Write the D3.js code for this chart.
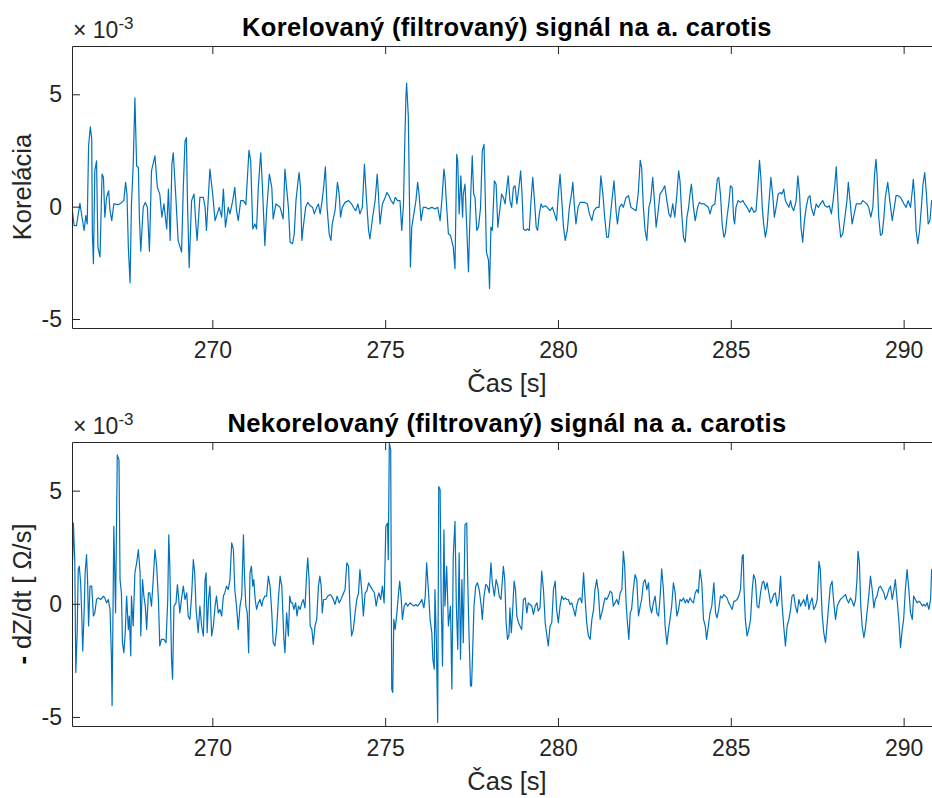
<!DOCTYPE html>
<html>
<head>
<meta charset="utf-8">
<script src="https://cdn.jsdelivr.net/npm/d3@7"></script>
<style>
  html, body { margin: 0; padding: 0; background: #fff; }
  svg { display: block; font-family: "Liberation Sans", Arial, Helvetica, sans-serif; }
</style>
</head>
<body>
<svg id="chart" width="932" height="798"></svg>
<script>
// Filtered impedance signals from a. carotis, values in units of 1e-3.
// Each entry: [time in s, value x 1e-3]
const correlatedSignal = [
  [265.94,0.0],[266.00,-0.84],[266.07,-0.84],[266.17,0.15],[266.23,-0.47],[266.29,-1.06],[266.34,-0.4],[266.38,-0.77],[266.42,2.7],[266.47,3.55],[266.51,3.04],[266.53,-1.21],[266.56,-2.54],[266.60,1.59],[266.65,2.04],[266.69,-1.8],[266.75,-2.24],[266.81,1.45],[266.85,1.3],[266.89,-0.47],[266.94,0.41],[267.00,0.71],[267.04,-0.18],[267.09,-0.62],[267.15,0.12],[267.28,0.09],[267.38,0.19],[267.44,0.27],[267.49,1.08],[267.53,0.56],[267.57,-1.8],[267.62,-3.39],[267.66,0.12],[267.71,1.81],[267.76,4.84],[267.81,1.81],[267.86,1.74],[267.89,-0.47],[267.93,-1.98],[268.00,-0.03],[268.06,0.19],[268.12,-0.03],[268.18,-1.98],[268.24,1.59],[268.34,2.26],[268.41,0.86],[268.48,0.56],[268.54,-0.47],[268.60,0.12],[268.68,-0.99],[268.73,0.78],[268.78,-1.5],[268.83,1.89],[268.87,2.4],[268.95,0.27],[269.01,-1.5],[269.11,-2.02],[269.16,0.86],[269.21,2.92],[269.25,3.07],[269.28,0.27],[269.33,-2.71],[269.40,0.27],[269.47,0.56],[269.53,-0.91],[269.56,-1.5],[269.64,0.41],[269.74,0.41],[269.79,-0.03],[269.83,-1.06],[269.93,1.67],[270.01,0.56],[270.08,-0.62],[270.20,-0.03],[270.27,-0.47],[270.32,0.78],[270.38,-0.91],[270.46,-0.03],[270.51,-0.32],[270.59,0.27],[270.65,0.86],[270.70,-0.18],[270.75,-0.62],[270.82,0.27],[270.90,0.27],[270.97,0.09],[271.06,2.51],[271.11,2.04],[271.17,-0.99],[271.23,-0.77],[271.28,-0.99],[271.33,0.86],[271.40,2.4],[271.45,0.86],[271.52,-1.73],[271.57,-0.18],[271.65,1.45],[271.72,0.86],[271.76,-0.55],[271.84,0.12],[271.96,-0.03],[272.05,-0.55],
  [272.10,1.67],[272.20,-0.03],[272.25,-1.58],[272.32,-1.65],[272.37,-1.21],[272.42,0.27],[272.47,1.0],[272.51,1.52],[272.55,0.86],[272.59,-1.5],[272.63,-0.91],[272.70,-0.03],[272.76,0.19],[272.83,0.04],[272.90,-0.03],[272.95,-0.32],[273.02,-0.03],[273.07,0.12],[273.12,-0.32],[273.17,0.19],[273.22,0.86],[273.27,1.77],[273.32,-0.03],[273.38,-1.21],[273.43,-1.5],[273.47,-0.77],[273.55,-0.18],[273.62,1.08],[273.67,0.56],[273.71,-0.47],[273.76,-0.03],[273.84,0.19],[273.94,0.27],[274.03,0.12],[274.08,-0.03],[274.15,-0.18],[274.21,0.12],[274.27,-0.32],[274.34,-0.03],[274.40,1.89],[274.45,0.56],[274.52,-1.06],[274.56,-1.43],[274.63,-0.55],[274.71,0.27],[274.77,1.45],[274.80,0.71],[274.85,-0.77],[274.92,0.12],[275.00,0.41],[275.05,0.63],[275.11,0.49],[275.17,0.27],[275.24,0.12],[275.29,0.41],[275.36,0.27],[275.43,0.27],[275.48,-1.06],[275.53,0.12],[275.56,2.33],[275.60,4.84],[275.62,5.5],[275.67,4.03],[275.70,0.56],[275.73,-2.68],[275.77,-0.91],[275.83,-0.32],[275.89,0.27],[275.94,1.08],[275.98,0.56],[276.04,-0.62],[276.10,-0.03],[276.17,-0.03],[276.25,-0.1],[276.35,-0.03],[276.44,-0.1],[276.52,-0.03],[276.59,-0.62],[276.64,0.27],[276.70,1.67],[276.73,1.3],[276.78,-0.03],[276.83,-1.21],[276.89,-1.28],[276.97,-1.8],[277.02,-2.76],[277.07,2.33],[277.10,2.04],[277.14,-0.32],[277.19,1.37],[277.24,-0.47],[277.26,0.56],[277.31,1.0],[277.36,-0.91],[277.41,-2.9],[277.44,-1.21],[277.48,0.71],[277.52,2.26],[277.56,0.56],[277.60,0.41],[277.65,-1.06],[277.70,-0.91],[277.76,-0.03],[277.81,2.48],[277.86,2.77],[277.89,0.86],[277.93,-2.02],[277.99,-2.39],[278.02,-3.64],[278.06,-0.91],[278.10,-1.06],[278.16,1.15],[278.21,1.0],[278.26,-0.91],
  [278.37,0.56],[278.42,0.41],[278.47,0.12],[278.52,0.86],[278.56,1.37],[278.61,0.27],[278.66,-0.03],[278.71,0.86],[278.76,0.93],[278.81,0.12],[278.87,0.86],[278.92,1.59],[278.96,0.56],[279.00,-0.99],[279.06,-1.06],[279.12,-0.99],[279.17,-1.06],[279.22,0.27],[279.27,1.3],[279.32,0.27],[279.37,-0.91],[279.41,-1.06],[279.46,-0.32],[279.51,0.12],[279.56,-0.03],[279.63,0.04],[279.69,-0.03],[279.77,-0.18],[279.84,-0.03],[279.90,-0.32],[279.96,-0.62],[280.01,0.56],[280.06,1.45],[280.11,0.27],[280.16,-0.91],[280.21,-1.5],[280.27,-1.06],[280.33,-0.03],[280.39,0.56],[280.43,1.08],[280.47,0.12],[280.52,-0.77],[280.58,-0.03],[280.64,0.19],[280.72,0.19],[280.78,0.19],[280.85,0.12],[280.91,-0.32],[280.98,-0.62],[281.04,-0.18],[281.12,-0.03],[281.19,-0.03],[281.24,1.37],[281.30,0.56],[281.35,-0.47],[281.41,-1.36],[281.46,-1.36],[281.53,-0.18],[281.58,0.56],[281.62,1.15],[281.68,-0.18],[281.72,-0.77],[281.78,-0.03],[281.84,0.12],[281.89,-0.03],[281.97,0.41],[282.04,0.49],[282.11,-0.03],[282.18,-0.1],[282.26,-0.18],[282.32,0.56],[282.38,2.06],[282.42,1.74],[282.47,-0.03],[282.52,-1.06],[282.57,-1.5],[282.63,-0.03],[282.68,0.27],[282.74,1.3],[282.79,0.27],[282.84,-0.91],[282.90,-0.18],[282.95,0.56],[283.02,0.71],[283.09,0.93],[283.15,0.27],[283.21,-0.32],[283.26,-0.47],[283.32,0.12],[283.38,-0.47],[283.44,0.56],[283.49,1.59],[283.53,1.15],[283.58,-0.32],[283.63,-1.36],[283.68,-1.58],[283.73,-0.47],[283.78,-0.03],[283.82,0.56],[283.86,1.0],[283.92,-0.03],[283.97,-0.62],[284.04,-0.03],[284.09,0.19],[284.16,0.12],[284.23,0.12],[284.29,0.04],[284.35,-0.03],[284.40,-0.32],
  [284.46,0.04],[284.54,0.12],[284.57,0.63],[284.61,1.22],[284.65,1.3],[284.70,0.56],[284.75,-0.77],[284.80,-1.36],[284.84,-1.21],[284.89,-0.47],[284.94,0.12],[284.99,0.93],[285.04,0.86],[285.08,-0.47],[285.11,-0.77],[285.15,-0.03],[285.21,0.27],[285.28,0.19],[285.35,0.27],[285.40,0.12],[285.47,-0.03],[285.54,-0.25],[285.60,-0.03],[285.67,-0.25],[285.73,-0.18],[285.78,0.86],[285.83,2.06],[285.87,1.3],[285.91,-0.03],[285.95,-0.77],[286.00,-1.36],[286.05,-0.91],[286.10,0.12],[286.16,1.3],[286.21,0.56],[286.26,-0.47],[286.31,-0.03],[286.37,0.56],[286.44,0.63],[286.48,0.56],[286.53,0.78],[286.58,0.27],[286.63,0.12],[286.68,-0.03],[286.73,0.27],[286.77,-0.03],[286.82,-0.18],[286.89,0.27],[286.94,1.37],[286.99,0.56],[287.03,-0.91],[287.08,-1.58],[287.13,-0.62],[287.18,-0.03],[287.24,0.41],[287.29,0.49],[287.33,-0.03],[287.40,-0.4],[287.47,0.12],[287.53,-0.03],[287.59,0.12],[287.66,0.27],[287.72,0.04],[287.79,-0.03],[287.85,0.04],[287.91,-0.32],[287.96,0.27],[288.01,1.0],[288.05,1.77],[288.09,0.56],[288.12,-0.47],[288.18,-1.36],[288.24,-1.21],[288.30,-0.47],[288.36,0.27],[288.40,1.08],[288.45,0.27],[288.51,-0.77],[288.57,-0.32],[288.63,0.12],[288.70,0.12],[288.76,0.12],[288.82,0.27],[288.88,0.19],[288.94,0.12],[288.99,-0.03],[289.05,-0.47],[289.11,-0.03],[289.16,1.45],[289.20,2.11],[289.23,1.45],[289.28,-0.47],[289.33,-1.28],[289.38,-1.21],[289.43,-0.47],[289.47,0.41],[289.54,1.08],[289.60,0.27],[289.67,-0.62],[289.73,-0.03],[289.78,0.49],[289.84,0.49],[289.91,0.41],[289.96,0.27],[290.01,0.12],[290.07,-0.03],[290.13,0.27],[290.20,-0.03],[290.25,0.71],[290.28,1.22],[290.32,0.41],[290.36,-1.06],[290.41,-1.65],[290.46,-1.06],[290.52,0.12],[290.56,1.0],[290.61,1.52],[290.66,0.56],[290.71,-0.77],[290.76,-0.62],[290.81,0.27],[290.90,0.3]
];

const uncorrelatedSignal = [
  [265.96,1.95],[265.98,3.57],[266.02,1.95],[266.05,-3.04],[266.09,-1.28],[266.12,1.51],[266.15,1.66],[266.19,0.93],[266.22,-0.4],[266.25,-2.09],[266.29,-0.4],[266.32,1.37],[266.36,2.17],[266.39,1.07],[266.42,-0.98],[266.46,0.78],[266.51,0.78],[266.56,-0.54],[266.60,-0.4],[266.65,0.19],[266.70,0.26],[266.77,0.19],[266.85,0.34],[266.89,0.26],[266.94,0.04],[266.99,0.19],[267.04,-0.25],[267.08,-2.3],[267.10,-4.5],[267.15,3.42],[267.20,-0.4],[267.25,6.58],[267.30,6.36],[267.33,1.07],[267.37,0.48],[267.40,-1.72],[267.44,-2.16],[267.48,-1.28],[267.52,0.34],[267.57,-1.13],[267.60,-0.54],[267.64,-2.3],[267.66,0.34],[267.71,-0.98],[267.76,1.37],[267.81,1.81],[267.86,2.39],[267.91,1.37],[267.93,-1.42],[267.98,1.07],[268.02,0.34],[268.06,-0.1],[268.10,-1.13],[268.15,0.48],[268.19,0.48],[268.24,-0.1],[268.29,1.07],[268.34,2.39],[268.39,1.66],[268.44,0.19],[268.48,-1.86],[268.53,-1.57],[268.60,-1.57],[268.66,-1.72],[268.71,0.19],[268.74,3.05],[268.77,1.66],[268.82,-2.45],[268.85,-3.33],[268.89,-0.1],[268.95,0.04],[268.99,0.85],[269.02,0.34],[269.06,-0.4],[269.12,0.34],[269.16,0.78],[269.21,0.19],[269.26,0.48],[269.30,-0.54],[269.35,-0.69],[269.40,0.34],[269.45,1.95],[269.49,1.37],[269.53,-0.25],[269.59,-1.28],[269.64,-0.1],[269.69,-0.98],[269.74,-1.42],[269.79,1.07],[269.82,1.37],[269.85,-1.28],[269.89,0.19],[269.93,0.78],[269.98,-1.42],[270.03,-0.98],[270.08,-0.1],[270.12,0.34],[270.17,-0.4],[270.22,-0.25],[270.27,-0.54],[270.32,0.34],[270.36,0.48],[270.41,0.78],[270.46,0.63],[270.51,1.07],[270.56,2.69],[270.61,2.39],[270.65,0.63],[270.70,-0.1],[270.75,-1.13],[270.80,-0.1],[270.85,0.34],[270.90,3.05],[270.93,1.22],[270.97,-0.1],[271.01,-0.4],[271.05,-2.16],[271.09,1.37],[271.13,1.66],[271.17,0.78],[271.20,1.07],[271.24,0.19],[271.28,-0.25],[271.33,0.04],[271.38,0.19],[271.43,-0.1],[271.47,0.19],[271.52,0.34],[271.57,0.34],[271.62,1.22],[271.67,0.78],[271.72,-0.4],[271.76,-1.72],[271.81,-1.86],[271.86,-1.13],[271.91,0.19],[271.96,1.22],[272.01,0.78],[272.07,-1.57],
  [272.10,-2.16],[272.15,-0.4],[272.20,-1.42],[272.24,0.34],[272.28,0.04],[272.32,0.04],[272.36,-0.25],[272.41,0.04],[272.45,-0.54],[272.49,-0.1],[272.54,-0.25],[272.59,0.04],[272.63,0.19],[272.68,-0.18],[272.73,1.37],[272.76,2.03],[272.80,1.07],[272.83,-0.98],[272.88,-1.13],[272.92,-1.79],[272.97,-0.98],[273.02,-0.69],[273.07,0.78],[273.11,1.22],[273.15,0.78],[273.18,-0.4],[273.22,0.19],[273.28,0.19],[273.34,0.34],[273.41,0.41],[273.45,0.34],[273.50,0.19],[273.55,-0.03],[273.61,0.34],[273.67,0.04],[273.72,0.19],[273.78,0.41],[273.84,0.63],[273.89,1.81],[273.94,1.66],[273.98,-0.1],[274.03,-1.42],[274.08,-1.13],[274.13,-0.4],[274.18,0.19],[274.23,0.48],[274.27,1.51],[274.32,0.63],[274.37,-0.54],[274.42,0.48],[274.47,0.56],[274.52,0.93],[274.57,0.78],[274.63,0.63],[274.69,0.48],[274.74,-0.1],[274.79,0.34],[274.82,0.48],[274.87,0.19],[274.92,0.78],[274.97,0.04],[275.02,3.42],[275.07,3.57],[275.09,1.95],[275.12,7.1],[275.16,6.8],[275.19,-3.77],[275.22,-3.92],[275.25,-0.69],[275.29,-1.13],[275.34,-0.4],[275.38,0.34],[275.42,1.0],[275.46,0.34],[275.50,-0.69],[275.55,-0.1],[275.60,0.04],[275.65,-0.1],[275.72,0.04],[275.77,-0.03],[275.83,-0.1],[275.89,-0.03],[275.94,-0.1],[276.01,0.04],[276.06,0.19],[276.12,-0.18],[276.16,0.34],[276.20,1.81],[276.25,0.63],[276.30,-0.69],[276.35,-1.28],[276.38,-2.45],[276.42,-2.89],[276.44,0.63],[276.48,-1.57],[276.52,-5.24],[276.55,5.18],[276.59,5.04],[276.62,0.19],[276.66,-2.75],[276.70,3.27],[276.73,-0.1],[276.78,1.66],[276.83,-0.98],[276.89,-0.1],[276.93,-3.77],[276.97,2.1],[277.02,3.64],[277.06,-0.1],[277.10,-2.01],[277.14,2.25],[277.18,-2.45],[277.22,1.07],[277.26,-1.72],[277.31,3.5],[277.36,3.57],[277.39,0.93],[277.43,-1.57],[277.47,-3.63],[277.50,-3.63],[277.53,-2.16],[277.57,-0.1],[277.62,0.78],[277.67,0.93],[277.72,0.63],[277.78,-0.1],[277.81,-0.69],[277.86,0.34],[277.91,0.85],[277.96,0.78],[278.01,0.48],[278.06,1.81],[278.10,0.93],[278.16,0.34],[278.21,1.07],[278.26,0.78],[278.30,0.34],[278.35,0.19],
  [278.42,1.66],[278.46,1.07],[278.50,-0.84],[278.54,-1.57],[278.58,-1.42],[278.61,-0.18],[278.65,-1.28],[278.69,-0.25],[278.73,1.0],[278.77,0.63],[278.81,-0.54],[278.86,-0.84],[278.90,-0.98],[278.95,-1.13],[279.00,0.19],[279.05,0.26],[279.10,-0.4],[279.14,0.04],[279.19,-0.03],[279.24,-0.1],[279.29,-0.47],[279.34,-0.1],[279.39,0.04],[279.43,-0.32],[279.48,-0.18],[279.53,1.44],[279.58,0.63],[279.63,-0.84],[279.68,-1.42],[279.72,-1.86],[279.77,-0.98],[279.82,-0.84],[279.87,0.63],[279.92,1.0],[279.96,-0.25],[280.01,-0.84],[280.06,-0.1],[280.11,0.34],[280.16,0.19],[280.21,0.26],[280.25,0.19],[280.30,0.19],[280.35,-0.03],[280.40,0.04],[280.45,-0.25],[280.50,-0.54],[280.54,-0.1],[280.59,0.19],[280.64,0.26],[280.69,0.04],[280.74,1.37],[280.78,0.34],[280.83,-0.84],[280.88,-1.42],[280.93,-1.57],[280.98,-0.69],[281.03,-0.25],[281.07,0.63],[281.12,1.07],[281.17,0.48],[281.22,-0.69],[281.27,-0.4],[281.31,-0.1],[281.36,0.26],[281.41,0.19],[281.46,0.34],[281.51,0.56],[281.56,0.48],[281.60,-0.1],[281.65,0.04],[281.70,0.19],[281.75,-0.03],[281.80,0.48],[281.85,0.63],[281.89,2.32],[281.93,1.66],[281.97,0.04],[282.01,-0.84],[282.05,-1.57],[282.09,-0.4],[282.13,-0.25],[282.18,0.63],[282.23,1.29],[282.28,1.07],[282.33,-0.54],[282.38,-0.1],[282.42,0.19],[282.47,0.93],[282.52,1.07],[282.57,0.63],[282.62,0.93],[282.66,-0.1],[282.71,-0.4],[282.76,0.04],[282.81,0.34],[282.86,-0.4],[282.91,-0.54],[282.95,0.19],[283.00,1.54],[283.05,0.63],[283.10,-0.98],[283.15,-1.79],[283.20,-1.13],[283.24,-0.69],[283.29,-0.1],[283.34,0.93],[283.39,0.48],[283.44,-0.54],[283.49,-0.25],[283.53,0.19],[283.58,0.12],[283.63,0.26],[283.68,0.04],[283.73,0.19],[283.77,0.04],[283.82,0.26],[283.87,0.12],[283.92,0.04],[283.97,0.48],[284.02,0.63],[284.06,0.48],[284.11,1.51],[284.16,0.93],[284.21,-0.69],[284.26,-0.98],[284.30,-1.57],[284.35,-0.98],[284.40,-0.4],[284.45,-0.1],
  [284.51,0.93],[284.56,-0.4],[284.60,-0.62],[284.65,-0.25],[284.70,0.34],[284.75,0.26],[284.80,0.41],[284.84,0.34],[284.89,0.26],[284.94,0.04],[284.99,-0.1],[285.04,-0.25],[285.09,0.12],[285.13,0.12],[285.18,0.19],[285.23,0.34],[285.28,0.63],[285.33,2.1],[285.36,2.17],[285.38,0.78],[285.42,-0.69],[285.47,-1.42],[285.52,-1.13],[285.57,-0.69],[285.62,0.63],[285.66,1.29],[285.71,1.07],[285.76,-0.1],[285.81,-0.18],[285.86,0.48],[285.91,0.93],[285.95,1.0],[286.00,0.63],[286.05,0.93],[286.10,0.48],[286.15,0.04],[286.20,0.19],[286.24,0.41],[286.29,0.48],[286.34,-0.1],[286.39,0.19],[286.44,1.22],[286.48,0.04],[286.53,-0.98],[286.58,-1.86],[286.63,-0.98],[286.68,-0.69],[286.73,-0.25],[286.77,0.34],[286.82,0.41],[286.87,-0.1],[286.92,-0.4],[286.97,0.19],[287.02,-0.1],[287.06,0.04],[287.11,0.19],[287.16,-0.1],[287.21,0.41],[287.26,-0.25],[287.30,0.04],[287.35,0.26],[287.40,-0.25],[287.45,-0.1],[287.50,0.19],[287.55,1.88],[287.59,1.51],[287.64,-0.4],[287.69,-1.28],[287.74,-1.72],[287.79,-0.84],[287.83,-0.1],[287.88,0.78],[287.93,1.0],[287.98,0.04],[288.03,-0.69],[288.08,-0.1],[288.12,0.04],[288.17,0.19],[288.22,0.26],[288.27,0.34],[288.32,0.41],[288.36,0.19],[288.41,0.04],[288.46,0.26],[288.51,0.12],[288.56,-0.1],[288.61,0.19],[288.65,1.07],[288.68,2.32],[288.72,1.81],[288.76,-0.1],[288.80,-0.98],[288.85,-1.5],[288.89,-1.13],[288.94,-0.4],[288.99,0.34],[289.04,1.22],[289.09,0.63],[289.14,-0.18],[289.18,0.19],[289.23,0.34],[289.28,0.7],[289.33,0.78],[289.38,0.63],[289.43,0.48],[289.47,0.19],[289.52,0.34],[289.57,0.63],[289.62,0.78],[289.67,0.19],[289.72,0.63],[289.76,1.07],[289.81,0.19],[289.86,-0.69],[289.91,-1.94],[289.96,-1.13],[290.00,-0.69],[290.05,0.63],[290.10,1.51],[290.15,0.63],[290.20,-0.4],[290.25,-0.69],[290.29,0.34],[290.34,0.19],[290.39,0.04],[290.44,0.12],[290.49,0.04],[290.54,-0.1],[290.58,-0.03],[290.63,-0.1],[290.68,0.04],[290.73,-0.25],[290.78,0.19],[290.81,1.51],[290.90,1.2]
];

const timeTicks = [270, 275, 280, 285, 290];
const valueTicks = [-5, 0, 5];
const timeRange = [265.94, 291.11];
const valueRange = [-5.4, 7.15];

const panels = [
  { id: "corr", data: correlatedSignal,
    title: "Korelovaný (filtrovaný) signál na a. carotis",
    yLabel: [{ t: "Korelácia" }],
    top: 46, bottom: 328 },
  { id: "uncorr", data: uncorrelatedSignal,
    title: "Nekorelovaný (filtrovaný) signál na a. carotis",
    yLabel: [{ t: "-", dark: true }, { t: " dZ/dt [ Ω/s]" }],
    top: 442, bottom: 726 }
];

const svg = d3.select("#chart");
const left = 72, right = 942;
const axisColor = "#262626";
const lineColor = "#0072BD";
const tickLen = 8;

const x = d3.scaleLinear().domain(timeRange).range([left, right]);

panels.forEach(p => {
  const y = d3.scaleLinear().domain(valueRange).range([p.bottom, p.top]);
  const g = svg.append("g");

  g.append("clipPath").attr("id", "clip-" + p.id)
    .append("rect")
    .attr("x", left).attr("y", p.top)
    .attr("width", right - left).attr("height", p.bottom - p.top);

  // signal trace
  g.append("path")
    .datum(p.data)
    .attr("clip-path", `url(#clip-${p.id})`)
    .attr("fill", "none")
    .attr("stroke", lineColor)
    .attr("stroke-width", 1.2)
    .attr("stroke-linejoin", "round")
    .attr("d", d3.line().x(d => x(d[0])).y(d => y(d[1])));

  // bottom axis with inward ticks
  const xAxis = g.append("g")
    .attr("transform", `translate(0,${p.bottom})`)
    .call(d3.axisBottom(x).tickValues(timeTicks).tickSizeInner(-tickLen).tickSizeOuter(0).tickPadding(14));
  xAxis.select(".domain").attr("stroke", axisColor);
  xAxis.selectAll(".tick line").attr("stroke", axisColor);
  xAxis.selectAll(".tick text")
    .attr("fill", axisColor)
    .attr("font-size", 23)
    .attr("font-family", "'Liberation Sans', Arial, sans-serif");

  // top box edge with inward ticks
  const xTop = g.append("g")
    .attr("transform", `translate(0,${p.top})`)
    .call(d3.axisTop(x).tickValues(timeTicks).tickSizeInner(-tickLen).tickSizeOuter(0).tickFormat(""));
  xTop.select(".domain").attr("stroke", axisColor);
  xTop.selectAll(".tick line").attr("stroke", axisColor);

  // left axis with inward ticks
  const yAxis = g.append("g")
    .attr("transform", `translate(${left},0)`)
    .call(d3.axisLeft(y).tickValues(valueTicks).tickSizeInner(-tickLen).tickSizeOuter(0)
      .tickPadding(10).tickFormat(d => d < 0 ? "-" + Math.abs(d) : String(d)));
  yAxis.select(".domain").attr("stroke", axisColor);
  yAxis.selectAll(".tick line").attr("stroke", axisColor);
  yAxis.selectAll(".tick text")
    .attr("fill", axisColor)
    .attr("font-size", 23)
    .attr("font-family", "'Liberation Sans', Arial, sans-serif");

  // exponent marker
  const expo = g.append("text")
    .attr("x", left + 1).attr("y", p.top - 8)
    .attr("fill", axisColor)
    .attr("font-size", 23);
  expo.append("tspan").text("× 10");
  expo.append("tspan").attr("font-size", 17).attr("dy", -9).text("-3");

  // title
  g.append("text")
    .attr("x", (left + right) / 2).attr("y", p.top - 10)
    .attr("text-anchor", "middle")
    .attr("font-size", 25.5)
    .attr("font-weight", "bold")
    .attr("letter-spacing", 0.35)
    .attr("fill", "#000")
    .text(p.title);

  // x label
  g.append("text")
    .attr("x", (left + right) / 2).attr("y", p.bottom + 64)
    .attr("text-anchor", "middle")
    .attr("font-size", 25.5)
    .attr("fill", axisColor)
    .text("Čas [s]");

  // y label
  const yl = g.append("text")
    .attr("transform", `translate(31,${p.id === "corr" ? (p.top + p.bottom) / 2 : 594}) rotate(-90)`)
    .attr("text-anchor", "middle")
    .attr("font-size", 25.5)
    .attr("fill", axisColor);
  p.yLabel.forEach(s => {
    yl.append("tspan").attr("fill", s.dark ? "#000" : axisColor)
      .attr("font-weight", s.dark ? "bold" : null).text(s.t);
  });
});
</script>
</body>
</html>
